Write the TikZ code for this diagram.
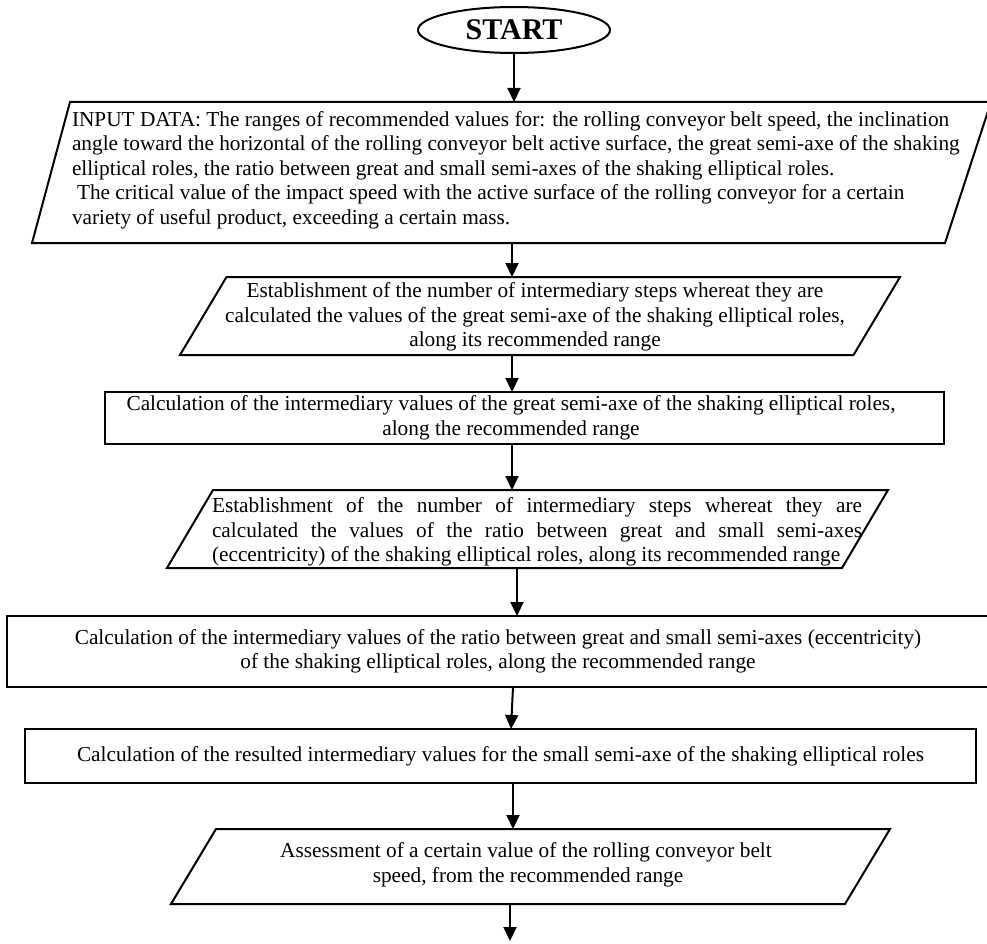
\documentclass[tikz,border=0pt]{standalone}
\usepackage{fontspec}
\setmainfont{Liberation Serif}
\usetikzlibrary{shapes.geometric,arrows.meta}
\begin{document}
\begin{tikzpicture}[x=1pt,y=-1pt,
  every node/.style={font=\fontsize{21.3}{24.5}\selectfont, inner sep=0pt, outer sep=0pt},
  outline/.style={draw=black, line width=2pt},
  procbox/.style={outline, rectangle, align=center},
  ioframe/.style={rectangle, anchor=south west},
  flow/.style={line width=2pt, -{Triangle[length=14pt,width=13pt]}}]
\useasboundingbox (0,0) rectangle (987,944);

% terminal
\node[outline, ellipse, minimum width=192pt, minimum height=46pt,
      font=\fontsize{30}{36}\selectfont\bfseries] (start) at (514,30) {START};

% input data (parallelogram drawn on the frame of an empty node)
\node[ioframe, minimum width=959pt, minimum height=141pt] (input) at (32,243) {};
\draw[outline] ([xshift=38pt]input.north west) -- (input.north east)
  -- ([xshift=-46pt]input.south east) -- (input.south west) -- cycle;
\node[anchor=west, align=left] (inputtext) at (72,170)
 {INPUT DATA: The ranges of recommended values for: the rolling conveyor belt speed, the inclination\\
  angle toward the horizontal of the rolling conveyor belt active surface, the great semi-axe of the shaking\\
  elliptical roles, the ratio between great and small semi-axes of the shaking elliptical roles.\\
  \hspace*{5pt}The critical value of the impact speed with the active surface of the rolling conveyor for a certain\\
  variety of useful product, exceeding a certain mass.};

% steps for the great semi-axe
\node[ioframe, minimum width=720pt, minimum height=78pt] (stepsa) at (180,355) {};
\draw[outline] ([xshift=46.5pt]stepsa.north west) -- (stepsa.north east)
  -- ([xshift=-46.5pt]stepsa.south east) -- (stepsa.south west) -- cycle;
\node[align=center] (stepsatext) at (535,317)
 {Establishment of the number of intermediary steps whereat they are\\
  calculated the values of the great semi-axe of the shaking elliptical roles,\\
  along its recommended range};

\node[procbox, minimum width=839pt, minimum height=52pt] (calca) at (524.5,418)
 {Calculation of the intermediary values of the great semi-axe of the shaking elliptical roles,\hspace*{27pt}\\
  along the recommended range\hspace*{27pt}};

% steps for the eccentricity
\node[ioframe, minimum width=721pt, minimum height=78pt] (stepse) at (167,568) {};
\draw[outline] ([xshift=46pt]stepse.north west) -- (stepse.north east)
  -- ([xshift=-46pt]stepse.south east) -- (stepse.south west) -- cycle;
\node[anchor=west, align=left] (stepsetext) at (212,532)
 {\makebox[650pt][s]{Establishment of the number of intermediary steps whereat they are}\\
  \makebox[650pt][s]{calculated the values of the ratio between great and small semi-axes}\\
  (eccentricity) of the shaking elliptical roles, along its recommended range};

\node[procbox, minimum width=982pt, minimum height=71pt] (calce) at (498,651.5)
 {Calculation of the intermediary values of the ratio between great and small semi-axes (eccentricity)\\
  of the shaking elliptical roles, along the recommended range};

\node[procbox, minimum width=951pt, minimum height=54pt] (calcb) at (500.5,756)
 {Calculation of the resulted intermediary values for the small semi-axe of the shaking elliptical roles};

% belt speed
\node[ioframe, minimum width=719pt, minimum height=75pt] (speed) at (171,904) {};
\draw[outline] ([xshift=45pt]speed.north west) -- (speed.north east)
  -- ([xshift=-45pt]speed.south east) -- (speed.south west) -- cycle;
\node[align=center] (speedtext) at (526,865)
 {Assessment of a certain value of the rolling conveyor belt\\
  \hspace*{4pt}speed, from the recommended range};

% connectors along the main axis
\coordinate (spine) at (512,0);
\coordinate (next) at (510,941);
\draw[flow] (start.south) -- (start.south |- input.north);
\draw[flow] (input.south -| spine) -- (stepsa.north -| spine);
\draw[flow] (stepsa.south -| spine) -- (calca.north -| spine);
\draw[flow] (calca.south -| spine) -- (stepse.north -| spine);
\draw[flow] ([xshift=5pt]stepse.south -| spine) -- ([xshift=5pt]calce.north -| spine);
\draw[flow] ([xshift=1pt]calce.south -| spine) -- ([xshift=-1pt]calcb.north -| spine);
\draw[flow] ([xshift=1pt]calcb.south -| spine) -- ([xshift=1pt]speed.north -| spine);
\draw[flow] (speed.south -| next) -- (next);
\end{tikzpicture}
\end{document}
